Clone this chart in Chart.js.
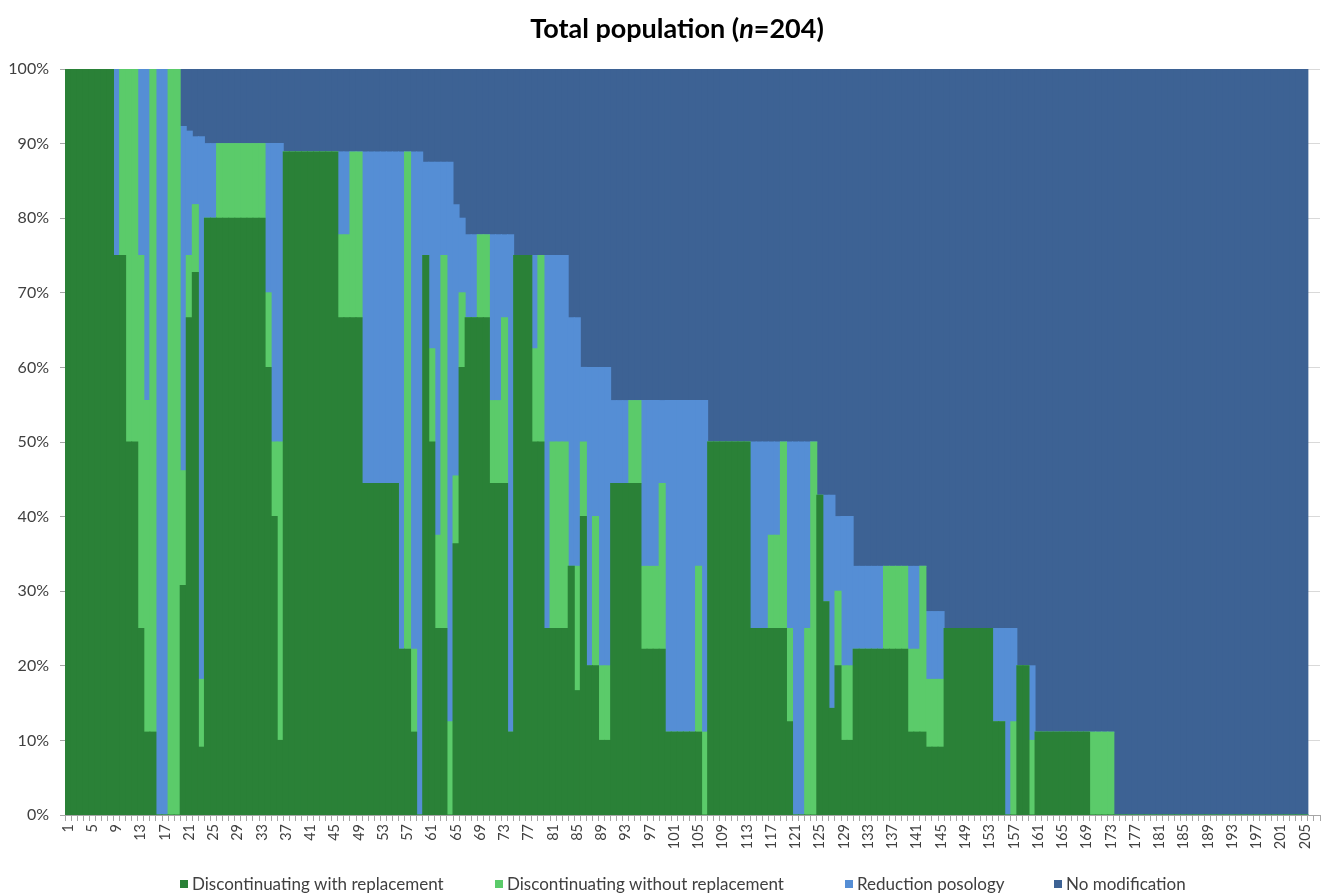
<!DOCTYPE html>
<html>
<head>
<meta charset="utf-8">
<script src="https://cdn.jsdelivr.net/npm/chart.js@4.4.1/dist/chart.umd.min.js"></script>
<style>
html,body{margin:0;padding:0;background:#ffffff;}
#wrap{position:relative;width:1325px;height:894px;}
</style>
</head>
<body>
<div id="wrap"><canvas id="c" width="1325" height="894"></canvas></div>
<script>
// ---- category labels (patients 1..205 plus two empty slots on the axis) ----
const categories = Array.from({length: 207}, (_, i) => String(i + 1));

const seriesNames = [
  'Discontinuating with replacement',
  'Discontinuating without replacement',
  'Reduction posology',
  'No modification'
];

// ---- values in % ----
const withReplacement = [
  100,100,100,100,100,100,100,100,75,75,
  50,50,25,11.11,11.11,0,0,0,0,30.77,
  66.67,72.73,9.09,80,80,80,80,80,80,80,
  80,80,80,60,40,10,88.89,88.89,88.89,88.89,
  88.89,88.89,88.89,88.89,88.89,66.67,66.67,66.67,66.67,44.44,
  44.44,44.44,44.44,44.44,44.44,22.22,22.22,11.11,0,75,
  50,25,25,0,36.36,60,66.67,66.67,66.67,66.67,
  44.44,44.44,44.44,11.11,75,75,75,50,50,25,
  25,25,25,33.33,16.67,40,20,20,10,10,
  44.44,44.44,44.44,44.44,44.44,22.22,22.22,22.22,22.22,11.11,
  11.11,11.11,11.11,11.11,11.11,0,50,50,50,50,
  50,50,50,25,25,25,25,25,25,12.5,
  0,0,0,0,42.86,28.57,14.29,20,10,10,
  22.22,22.22,22.22,22.22,22.22,22.22,22.22,22.22,22.22,11.11,
  11.11,11.11,9.09,9.09,9.09,25,25,25,25,25,
  25,25,25,12.5,12.5,0,0,20,20,0,
  11.11,11.11,11.11,11.11,11.11,11.11,11.11,11.11,11.11,0,
  0,0,0,0,0,0,0,0,0,0,
  0,0,0,0,0,0,0,0,0,0,
  0,0,0,0,0,0,0,0,0,0,
  0,0,0,0,0
];

const withoutReplacement = [
  0,0,0,0,0,0,0,0,0,25,
  50,50,50,44.44,88.89,0,0,100,100,15.38,
  8.33,9.09,9.09,0,0,10,10,10,10,10,
  10,10,10,10,10,40,0,0,0,0,
  0,0,0,0,0,11.11,11.11,22.22,22.22,0,
  0,0,0,0,0,0,66.67,11.11,0,0,
  12.5,12.5,50,12.5,9.09,10,0,0,11.11,11.11,
  11.11,11.11,22.22,0,0,0,0,12.5,25,0,
  25,25,25,0,16.67,10,0,20,10,10,
  0,0,0,11.11,11.11,11.11,11.11,11.11,22.22,0,
  0,0,0,0,22.22,11.11,0,0,0,0,
  0,0,0,0,0,0,12.5,12.5,25,12.5,
  0,0,25,50,0,0,0,10,10,10,
  0,0,0,0,0,11.11,11.11,11.11,11.11,11.11,
  11.11,22.22,9.09,9.09,9.09,0,0,0,0,0,
  0,0,0,0,0,0,12.5,0,0,10,
  0,0,0,0,0,0,0,0,0,11.11,
  11.11,11.11,11.11,0,0,0,0,0,0,0,
  0,0,0,0,0,0,0,0,0,0,
  0,0,0,0,0,0,0,0,0,0,
  0,0,0,0,0
];

const reductionPosology = [
  0,0,0,0,0,0,0,0,25,0,
  0,0,25,44.44,0,100,100,0,0,46.15,
  16.67,9.09,72.73,10,10,0,0,0,0,0,
  0,0,0,20,40,40,0,0,0,0,
  0,0,0,0,0,11.11,11.11,0,0,44.44,
  44.44,44.44,44.44,44.44,44.44,66.67,0,66.67,88.89,12.5,
  25,50,12.5,75,36.36,10,11.11,11.11,0,0,
  22.22,22.22,11.11,66.67,0,0,0,12.5,0,50,
  25,25,25,33.33,33.33,10,40,20,40,40,
  11.11,11.11,11.11,0,0,22.22,22.22,22.22,11.11,44.44,
  44.44,44.44,44.44,44.44,22.22,44.44,0,0,0,0,
  0,0,0,25,25,25,12.5,12.5,0,25,
  50,50,25,0,0,14.29,28.57,10,20,20,
  11.11,11.11,11.11,11.11,11.11,0,0,0,0,11.11,
  11.11,0,9.09,9.09,9.09,0,0,0,0,0,
  0,0,0,12.5,12.5,25,12.5,0,0,10,
  0,0,0,0,0,0,0,0,0,0,
  0,0,0,0,0,0,0,0,0,0,
  0,0,0,0,0,0,0,0,0,0,
  0,0,0,0,0,0,0,0,0,0,
  0,0,0,0,0
];

const noModification = [
  0,0,0,0,0,0,0,0,0,0,
  0,0,0,0,0,0,0,0,0,7.69,
  8.33,9.09,9.09,10,10,10,10,10,10,10,
  10,10,10,10,10,10,11.11,11.11,11.11,11.11,
  11.11,11.11,11.11,11.11,11.11,11.11,11.11,11.11,11.11,11.11,
  11.11,11.11,11.11,11.11,11.11,11.11,11.11,11.11,11.11,12.5,
  12.5,12.5,12.5,12.5,18.18,20,22.22,22.22,22.22,22.22,
  22.22,22.22,22.22,22.22,25,25,25,25,25,25,
  25,25,25,33.33,33.33,40,40,40,40,40,
  44.44,44.44,44.44,44.44,44.44,44.44,44.44,44.44,44.44,44.44,
  44.44,44.44,44.44,44.44,44.44,44.44,50,50,50,50,
  50,50,50,50,50,50,50,50,50,50,
  50,50,50,50,57.14,57.14,57.14,60,60,60,
  66.67,66.67,66.67,66.67,66.67,66.67,66.67,66.67,66.67,66.67,
  66.67,66.67,72.73,72.73,72.73,75,75,75,75,75,
  75,75,75,75,75,75,75,80,80,80,
  88.89,88.89,88.89,88.89,88.89,88.89,88.89,88.89,88.89,88.89,
  88.89,88.89,88.89,100,100,100,100,100,100,100,
  100,100,100,100,100,100,100,100,100,100,
  100,100,100,100,100,100,100,100,100,100,
  100,100,100,100,100
];

const yTickValues = [0,10,20,30,40,50,60,70,80,90,100];
const seriesColors = ['#2A8137', '#5BCB6A', '#558ED5', '#3D6294'];
const TEXT = '#404040';
const FONT = 'Lato, "Open Sans", "DejaVu Sans", sans-serif';

const decorPlugin = {
  id: 'decor',
  afterDraw(chart) {
    const ctx = chart.ctx;
    ctx.save();
    // title with italic n
    const parts = [
      ['Total population (', 'bold 27px ' + FONT],
      ['n', 'italic bold 27px ' + FONT],
      ['=204)', 'bold 27px ' + FONT]
    ];
    let total = 0;
    parts.forEach(p => { ctx.font = p[1]; total += ctx.measureText(p[0]).width; });
    let x = 677 - total / 2;
    ctx.fillStyle = '#000000';
    ctx.textBaseline = 'middle';
    ctx.textAlign = 'left';
    parts.forEach(p => { ctx.font = p[1]; ctx.fillText(p[0], x, 29); x += ctx.measureText(p[0]).width; });

    // legend
    const legendX = [180, 495, 845, 1054];
    ctx.font = '17px ' + FONT;
    seriesNames.forEach((name, i) => {
      ctx.fillStyle = seriesColors[i];
      ctx.fillRect(legendX[i], 880, 8, 8);
      ctx.fillStyle = TEXT;
      ctx.fillText(name, legendX[i] + 12, 884.5);
    });
    ctx.restore();
  }
};

new Chart(document.getElementById('c'), {
  type: 'bar',
  data: {
    labels: categories,
    datasets: [
      { label: seriesNames[0], data: withReplacement, backgroundColor: seriesColors[0] },
      { label: seriesNames[1], data: withoutReplacement, backgroundColor: seriesColors[1] },
      { label: seriesNames[2], data: reductionPosology, backgroundColor: seriesColors[2] },
      { label: seriesNames[3], data: noModification, backgroundColor: seriesColors[3] }
    ]
  },
  options: {
    responsive: false,
    animation: false,
    devicePixelRatio: 1,
    layout: { padding: { top: 69, right: 5, bottom: 0, left: 0 } },
    datasets: { bar: { barPercentage: 1, categoryPercentage: 1, borderWidth: 0, borderSkipped: false, inflateAmount: 0.5 } },
    plugins: { legend: { display: false }, title: { display: false }, tooltip: { enabled: false } },
    scales: {
      x: {
        stacked: true,
        offset: true,
        grid: { display: true, drawOnChartArea: false, drawTicks: true, tickLength: 6, color: '#a6a6a6', offset: true },
        border: { display: true, color: '#a6a6a6' },
        ticks: {
          autoSkip: false, maxRotation: 90, minRotation: 90, padding: 3,
          font: { family: FONT, size: 14.5 }, color: TEXT,
          callback: (v, i) => (i % 4 === 0 && i < 205) ? categories[i] : ''
        },
        afterFit: s => { s.height = 79; s.paddingLeft = 0; s.paddingRight = 0; }
      },
      y: {
        stacked: true, min: 0, max: 100,
        afterBuildTicks: s => { s.ticks = yTickValues.map(v => ({ value: v })); },
        ticks: { callback: v => v + '%', padding: 11, font: { family: FONT, size: 16 }, color: TEXT },
        grid: { color: '#d9d9d9', drawTicks: true, tickLength: 5, tickColor: '#a6a6a6' },
        border: { display: true, color: '#a6a6a6' },
        afterFit: s => { s.width = 65; s.paddingTop = 0; s.paddingBottom = 0; }
      }
    }
  },
  plugins: [decorPlugin]
});
</script>
</body>
</html>
